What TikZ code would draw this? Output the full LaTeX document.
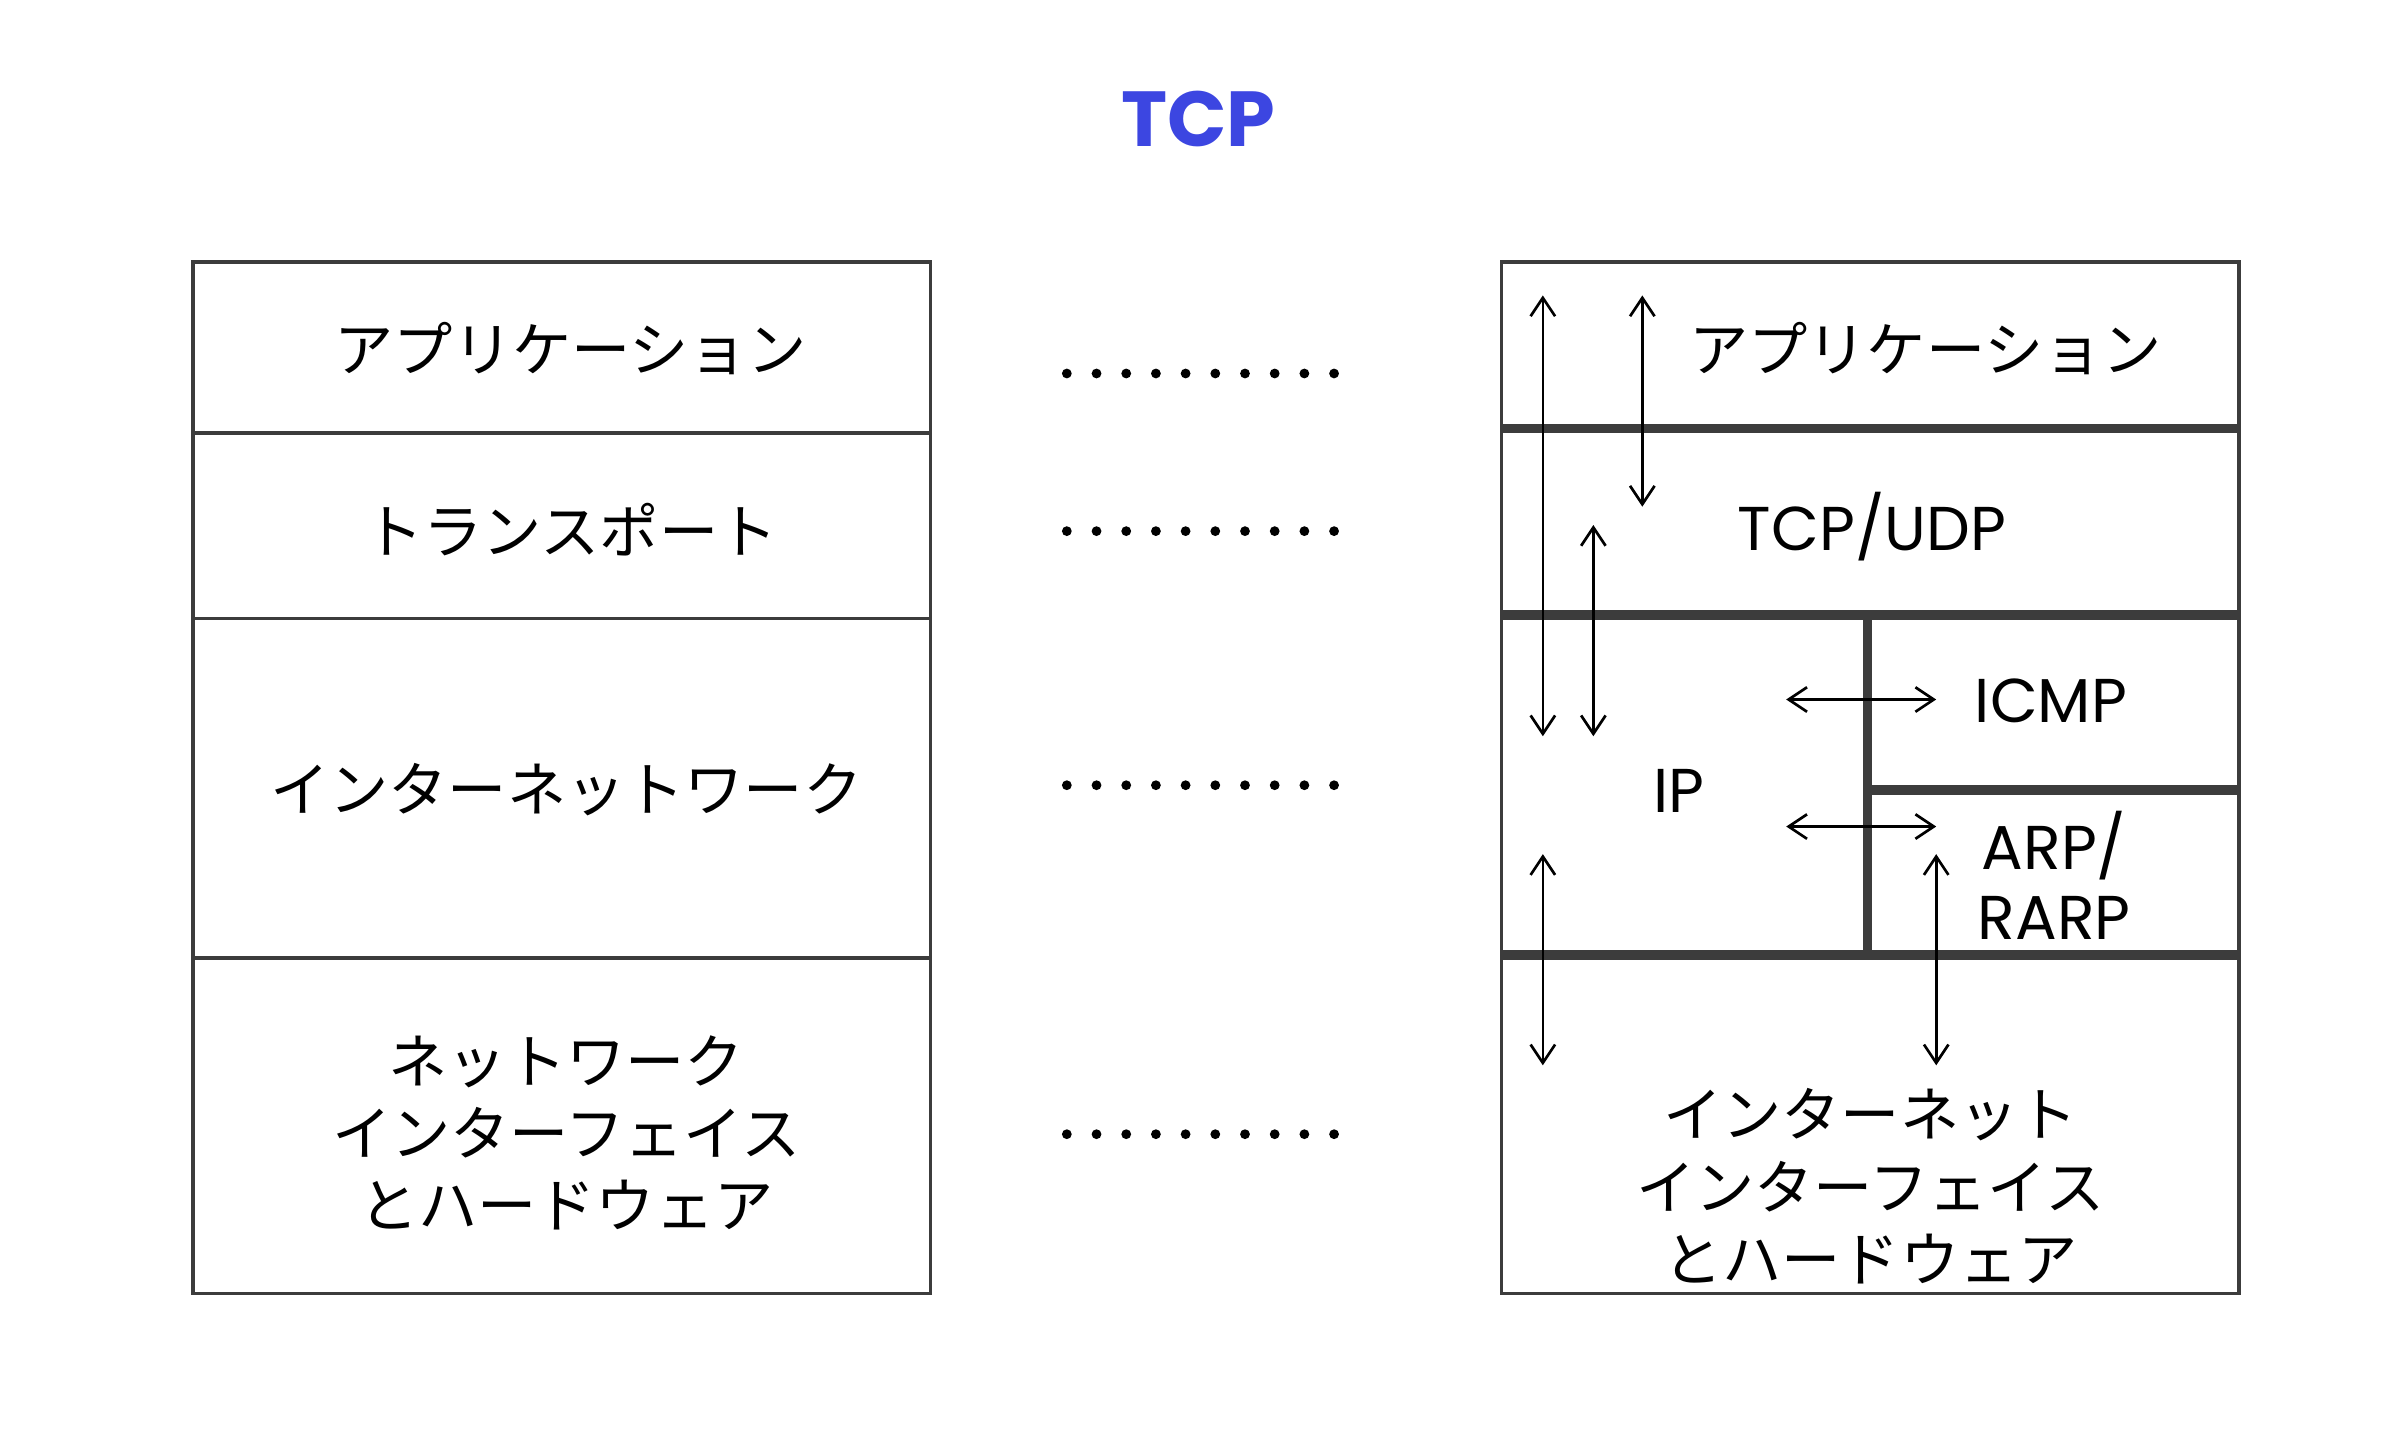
\documentclass[tikz,border=0pt]{standalone}
\usepackage{fontspec}
\setmainfont{Poppins}
\newfontfamily\jp{Noto Sans CJK JP}
\usetikzlibrary{arrows.meta}
\definecolor{titleblue}{RGB}{60,70,225}
\definecolor{layergray}{RGB}{60,60,60}
\tikzset{
  jlabel/.style={font=\jp\fontsize{11}{13.4}\selectfont,align=center},
  elabel/.style={font=\fontsize{11.5}{13}\selectfont,align=center},
  thick layer/.style={draw=layergray,line width=1.8pt},
  flow/.style={<->,>={Straight Barb[length=1.2mm,width=1.6mm]},line width=0.5pt}
}
\begin{document}
\begin{tikzpicture}[x=0.01cm,y=-0.01cm]
\useasboundingbox (0,0) rectangle (1568,941);

\node[font=\bfseries\fontsize{14.5}{17}\selectfont,text=titleblue] (title) at (783,78) {TCP};

% left stack
\draw[line width=0.7pt,draw=layergray] (126,171) rectangle (608,845);
\foreach \y in {283,404,626}
  \draw[line width=0.7pt,draw=layergray] (126,\y)--(608,\y);

\node[jlabel] (lapp) at (373,228) {アプリケーション};
\node[jlabel] (ltrans) at (373,346) {トランスポート};
\node[jlabel] (linet) at (370,516) {インターネットワーク};
\node[jlabel] (lnet) at (370,740) {ネットワーク\\インターフェイス\\とハードウェア};

% dots
\foreach \y in {244,347,513,741}
  \foreach \i in {0,...,9}
    \fill (697+\i*19.4,\y) circle[radius=3.2];

% right stack
\draw[line width=0.7pt,draw=layergray] (981,171) rectangle (1463,845);
\foreach \y in {280,402,624}
  \draw[thick layer] (981,\y)--(1463,\y);
\draw[thick layer] (1220,402)--(1220,624);
\draw[thick layer] (1220,516)--(1463,516);

\node[jlabel] (rapp) at (1258,228) {アプリケーション};
\node[elabel] (tcpudp) at (1223,344) {TCP/UDP};
\node[elabel] (ip) at (1097,517) {IP};
\node[elabel] (icmp) at (1340,458) {ICMP};
\node[elabel] (arp) at (1342,572) {ARP/\\RARP};
\node[jlabel] (rnet) at (1222,775) {インターネット\\インターフェイス\\とハードウェア};

% arrows
\coordinate (a1) at (1008,193); \coordinate (a2) at (1008,481);
\coordinate (b1) at (1073,193); \coordinate (b2) at (1073,331);
\coordinate (c1) at (1041,343); \coordinate (c2) at (1041,481);
\coordinate (d1) at (1167,457); \coordinate (d2) at (1265,457);
\coordinate (e1) at (1167,540); \coordinate (e2) at (1265,540);
\coordinate (f1) at (1008,558); \coordinate (f2) at (1008,696);
\coordinate (g1) at (1265,558); \coordinate (g2) at (1265,696);
\foreach \s/\t in {a1/a2,b1/b2,c1/c2,d1/d2,e1/e2,f1/f2,g1/g2}
  \draw[flow] (\s)--(\t);

\end{tikzpicture}
\end{document}
